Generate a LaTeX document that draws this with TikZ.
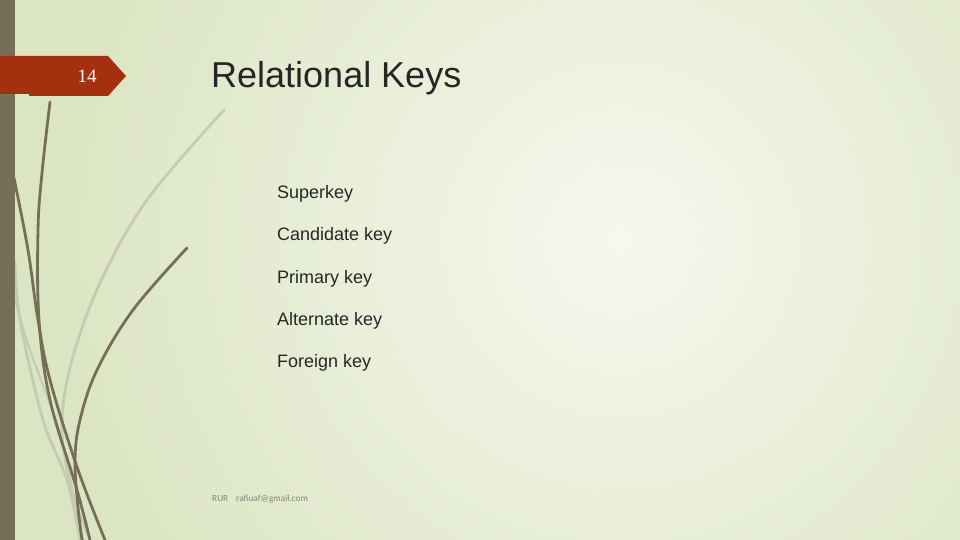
\documentclass[tikz,border=0pt]{standalone}
\usepackage{fontspec}
\setmainfont{Liberation Sans}
\newfontfamily\numfont{Liberation Serif}
\newfontfamily\footfont{Carlito}
\definecolor{bgout}{HTML}{DCE5C3}
\definecolor{bgin}{HTML}{F5F8EE}
\definecolor{barcol}{HTML}{766F58}
\definecolor{tabred}{HTML}{A5300F}
\definecolor{lightln}{HTML}{C5CBB2}
\definecolor{txt}{HTML}{262626}
\definecolor{foot}{HTML}{85857A}
\tikzset{
  darkline/.style={draw=barcol, line width=2.8pt, line cap=round},
  lightline/.style={draw=lightln, line width=2.8pt, line cap=round},
  item/.style={anchor=base west, inner sep=0pt, font=\fontsize{18}{20}\selectfont, text=txt},
  footer/.style={anchor=base west, inner sep=0pt, font=\footfont\fontsize{9.3}{10}\selectfont, text=foot},
}
\begin{document}
\begin{tikzpicture}[x=1pt,y=-1pt]
\useasboundingbox (0,0) rectangle (960,540);
% background
\fill[bgout] (0,0) rectangle (960,540);
\begin{scope}
\clip (0,0) rectangle (960,540);
\shade[inner color=bgin, outer color=bgout] (620,240) circle[radius=560];
\end{scope}
% light curves
\draw[lightline] plot[smooth, tension=0.6] coordinates {(224,110) (147,200) (100,283) (72,360) (62,420) (67,470) (83,540)};
\draw[lightline] plot[smooth, tension=0.6] coordinates {(15,262) (20,320) (43,420) (67,480) (80,540)};
\draw[lightline, line width=2pt] plot[smooth, tension=0.6] coordinates {(15,300) (30,350) (60,433) (75,500) (90,540)};
% dark curves
\draw[darkline] plot[smooth, tension=0.6] coordinates {(14,178) (28,250) (38,320) (50,380) (77,467) (105,540)};
\draw[darkline] plot[smooth, tension=0.6] coordinates {(50,102) (42,173) (38,230) (39,320) (50,400) (77,490) (90,540)};
\draw[darkline] plot[smooth, tension=0.6] coordinates {(187,248) (133,310) (97,370) (80,420) (75,460) (78,507) (82,540)};
% left bar
\fill[barcol] (0,0) rectangle (15,540);
% number tab
\fill[tabred] (0,56) -- (108,56) -- (126,76) -- (108,96) -- (29,96) -- (29,94) -- (0,94) -- cycle;
\node[text=white, font=\numfont\fontsize{19}{20}\selectfont, inner sep=0pt] (num) at (87,76) {14};
% title
\node[anchor=base west, inner sep=0pt, font=\fontsize{36}{40}\selectfont, text=txt] (title) at (211,88) {Relational Keys};
% items
\node[item] (i1) at (277,198) {Superkey};
\node[item] (i2) at (277,240) {Candidate key};
\node[item] (i3) at (277,283) {Primary key};
\node[item] (i4) at (277,325) {Alternate key};
\node[item] (i5) at (277,367) {Foreign key};
% footer
\node[footer] (f1) at (212,501) {RUR};
\node[footer] (f2) at (236,501) {rafiuaf@gmail.com};
\end{tikzpicture}
\end{document}
